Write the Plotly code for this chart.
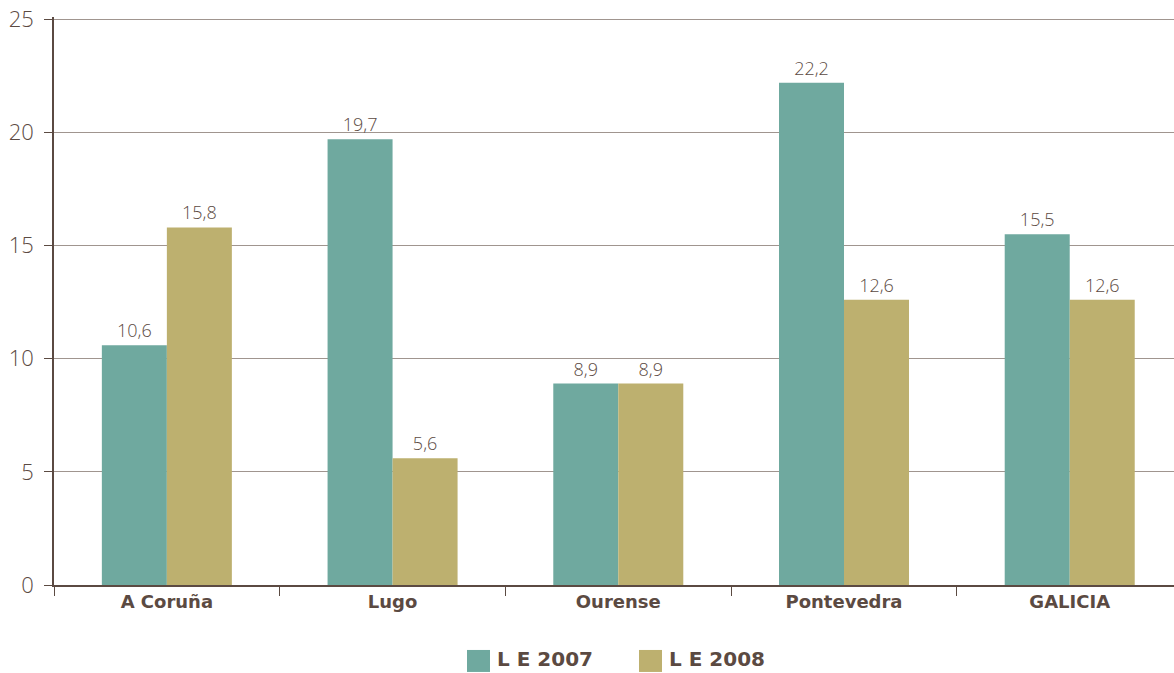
import plotly.graph_objects as go

categories = ["A Coruña", "Lugo", "Ourense", "Pontevedra", "GALICIA"]
le2007 = [10.6, 19.7, 8.9, 22.2, 15.5]
le2008 = [15.8, 5.6, 8.9, 12.6, 12.6]
labels2007 = ["10,6", "19,7", "8,9", "22,2", "15,5"]
labels2008 = ["15,8", "5,6", "8,9", "12,6", "12,6"]
series_names = ["L E 2007", "L E 2008"]
yticks = [0, 5, 10, 15, 20, 25]

txt = "#5b4a42"
c07 = "#6fa99f"
c08 = "#bdb06f"

L, T, B = 54, 16.7, 88
W, H = 1174, 673
PW = W - L
PH = H - T - B

fig = go.Figure()
fig.add_trace(go.Bar(name=series_names[0], x=categories, y=le2007, marker_color=c07,
                     marker_line_width=0,
                     text=labels2007, textposition="outside", cliponaxis=False,
                     textfont=dict(size=18, color=txt, family="Open Sans", weight=300)))
fig.add_trace(go.Bar(name=series_names[1], x=categories, y=le2008, marker_color=c08,
                     marker_line_width=0,
                     text=labels2008, textposition="outside", cliponaxis=False,
                     textfont=dict(size=18, color=txt, family="Open Sans", weight=300)))

# legend drawn manually (large square keys); positions in figure pixels
leg = [(467, c07, series_names[0]), (639, c08, series_names[1])]
for px, col, name in leg:
    fig.add_shape(type="rect", xref="paper", yref="paper",
                  x0=(px - L) / PW, x1=(px + 23 - L) / PW,
                  y0=(T + PH - 672) / PH, y1=(T + PH - 650) / PH,
                  fillcolor=col, line_width=0)
    fig.add_annotation(xref="paper", yref="paper", x=(px + 28 - L) / PW,
                       y=(T + PH - 659) / PH, xanchor="left", yanchor="middle",
                       text=name, showarrow=False,
                       font=dict(size=20, color=txt, family="DejaVu Sans", weight=700))

fig.update_layout(
    width=W, height=H, barmode="group", bargap=0.424, bargroupgap=0,
    plot_bgcolor="white", paper_bgcolor="white",
    margin=dict(l=L, r=0, t=T, b=B, autoexpand=False),
    font=dict(family="Open Sans", color=txt),
    showlegend=False,
    xaxis=dict(range=[-0.5, 4.462], tickson="boundaries", ticks="outside", ticklen=9,
               tickcolor=txt, showline=True, linecolor=txt, linewidth=1.5, automargin=False,
               tickfont=dict(size=18, color=txt, family="DejaVu Sans", weight=700)),
    yaxis=dict(range=[0, 25.1], tickvals=yticks, ticks="outside", ticklen=8, tickcolor=txt,
               showline=True, linecolor=txt, linewidth=1.5, showgrid=True, automargin=False,
               gridcolor="#a0958f", gridwidth=1.2, zeroline=False, ticklabelstandoff=6,
               ticklabeloverflow="allow",
               tickfont=dict(size=22, color=txt, family="Open Sans", weight=300)),
)
fig.write_html("out.html", config={"displayModeBar": False},
               post_script="document.body.style.margin='0';document.body.style.overflow='hidden';")
